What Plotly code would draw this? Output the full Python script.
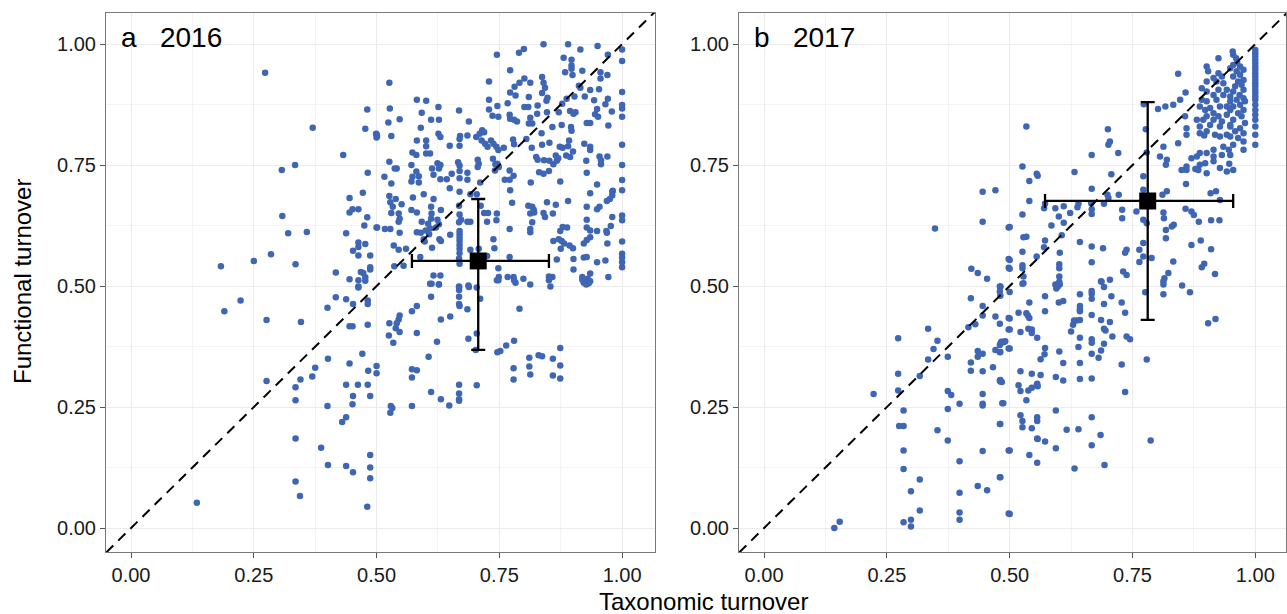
import plotly.graph_objects as go

# ---------------- Panel a: 2016 (taxonomic turnover, functional turnover) ----------------
pts_2016 = [
    (.273,.941),(.481,.865),(.477,.825),(.50,.814),(.50,.807),(.37,.827),(.432,.771),(.307,.740),(.334,.750),
    (.482,.734),(.472,.693),(.445,.682),(.445,.652),(.451,.659),(.463,.659),(.481,.642),(.308,.645),(.475,.625),
    (.50,.621),(.320,.609),(.358,.612),(.438,.609),(.463,.590),(.463,.581),(.477,.587),(.452,.573),(.463,.563),
    (.487,.563),(.285,.566),(.250,.552),(.183,.541),(.335,.545),(.487,.539),(.487,.534),(.417,.528),(.468,.529),
    (.473,.527),(.445,.514),(.463,.512),(.477,.518),(.463,.499),
    (.463,.497),(.477,.511),(.223,.470),(.190,.448),(.276,.430),(.346,.426),(.417,.477),(.438,.473),(.400,.455),
    (.452,.463),(.482,.470),(.482,.463),(.445,.417),(.451,.417),(.482,.420),(.471,.360),(.401,.350),(.375,.331),
    (.445,.340),(.369,.313),(.345,.307),(.276,.304),(.335,.291),(.335,.264),(.438,.296),(.462,.296),(.482,.296),
    (.452,.273),(.451,.256),(.483,.325),(.50,.320),(.50,.335),(.487,.273),(.40,.252),(.438,.229),(.430,.219),
    (.335,.185),(.387,.166),(.401,.130),(.438,.128),(.452,.115),(.487,.151),(.487,.125),(.487,.103),(.335,.096),
    (.344,.066),(.134,.052),(.481,.044),
    (.612,.505),(.627,.503),(.668,.499),(.668,.492),(.668,.478),(.668,.463),(.669,.459),(.687,.501),(.704,.497),
    (.711,.474),(.685,.452),(.611,.478),(.582,.459),(.572,.448),(.582,.403),(.650,.437),(.631,.431),(.547,.439),
    (.545,.431),(.541,.423),(.539,.413),(.547,.405),(.526,.423),(.525,.398),(.534,.383),(.623,.385),(.687,.391),
    (.704,.402),(.702,.368),(.746,.363),(.752,.366),(.764,.377),(.780,.387),(.791,.453),(.745,.512),(.783,.507),
    (.813,.503),(.854,.499),(.922,.507),(.927,.503),(.935,.510),(.606,.354),(.572,.328),(.582,.326),(.572,.311),
    (.611,.281),(.631,.266),(.648,.253),(.668,.296),(.668,.278),(.668,.266),(.668,.263),(.704,.295),(.572,.252),
    (.529,.252),(.532,.248),(.528,.238),(.779,.330),(.779,.307),(.811,.352),(.811,.334),(.813,.317),(.830,.357),
    (.837,.355),(.859,.350),(.859,.315),(.874,.372),(.874,.336),(.874,.309),
    (.84,1.0),(.89,1.0),(.95,.996),(.80,.99),(.79,.982),(.745,.978),(.915,.989),(1.0,.989),(.971,.978),(1.0,.965),
    (.881,.972),(.897,.968),(.897,.956),(.897,.949),(.772,.946),(.884,.942),(.919,.945),(.899,.936),(.956,.942),
    (.970,.936),(.837,.932),(.801,.929),(.729,.923),(.526,.920),(.791,.920),(.813,.920),(.781,.912),(.772,.900),
    (.840,.920),(.843,.910),(.837,.899),(.956,.929),(.935,.905),(.953,.907),(.915,.910),(.903,.892),(.912,.914),
    (1.0,.901),(.971,.887),(.783,.894),(.810,.891),(.848,.889),(.887,.887),(.582,.885),(.601,.883),(.729,.885),
    (.767,.878),(.846,.883),(.924,.892),(.943,.884),(.966,.876),(.746,.872),(.801,.870),(.809,.870),(.828,.873),
    (1.0,.874),(1.0,.867),(.878,.877),(.979,.861),(.894,.862),(.901,.856),(.949,.866),(.945,.855),(.951,.850),
    (.527,.867),(.626,.870),(.668,.863),(.592,.858),(.729,.865),(.736,.852),(.748,.850),(.771,.854),(.772,.846),
    (.780,.844),(.786,.840),(.813,.848),(.827,.856),(.847,.859),(.871,.859),(.905,.859),(1.0,.850),(.935,.837),
    (.928,.837),(.972,.832),(.547,.845),(.611,.844),(.627,.844),(.524,.838),(.688,.840),(.590,.827),(.817,.836),
    (.810,.836),(.858,.829),(.877,.833),(.896,.829),(.897,.821),(.715,.822),(.710,.815),(.703,.808),(.719,.818),
    (.499,.815),(.501,.810),(.530,.810),(.626,.815),(.630,.808),(.670,.810),(.669,.804),(.685,.811),(.836,.816),
    (.778,.803),(.805,.804),(.852,.796),(.892,.801),(.923,.794),(.935,.788),(1.0,.792),(.582,.801),(.601,.801),
    (.601,.789),(.649,.790),(.669,.790),(.714,.801),(.721,.794),(.726,.788),(.733,.801),(.738,.794),(.744,.788),
    (.748,.781),(.759,.786),(.780,.793),(.816,.786),(.837,.792),(.873,.788),(.879,.786),(.890,.789),(.900,.778),
    (.886,.770),(.894,.767),(.870,.764),(.867,.759),(.860,.752),(.852,.759),(.841,.760),(.828,.761),(.865,.770),
    (.573,.776),(.581,.771),(.601,.774),(.609,.774),(.825,.767),(.935,.781),(.954,.768),(.970,.768),(.957,.760),
    (.957,.752),(1.0,.750),(.927,.759),(.526,.757),(.571,.750),(.624,.754),(.630,.750),(.613,.743),(.627,.743),
    (.666,.756),(.669,.749),(.669,.738),(.685,.734),(.706,.761),(.708,.753),(.706,.746),(.737,.763),(.742,.752),
    (.746,.753),(.749,.746),(.741,.739),(.771,.739),(.761,.720),(.771,.720),(.779,.728),(.831,.735),(.840,.732),
    (.851,.738),(.928,.734),(.541,.743),(.537,.743),(.581,.737),(.616,.730),(.653,.732),(.643,.721),(.573,.726),
    (.586,.727),(.571,.716),(.586,.714),(.516,.726),(.530,.712),(.630,.721),(.669,.723),(.685,.720),(.711,.714),
    (.814,.714),(.874,.716),(.772,.698),(.949,.710),(1.0,.719),(1.0,.698),(.980,.695),(.980,.687),(.935,.692),
    (.596,.690),(.574,.683),(.649,.702),(.669,.695),(.691,.690),(.704,.690),(.526,.686),(.528,.673),(.533,.664),
    (.539,.680),(.551,.669),(.545,.650),(.530,.651),(.571,.657),(.582,.652),(.616,.680),(.611,.664),(.612,.650),
    (.631,.657),(.624,.637),(.611,.639),(.605,.629),(.592,.633),(.668,.666),(.669,.648),(.672,.637),(.668,.632),
    (.685,.633),(.691,.633),(.712,.666),(.719,.651),(.727,.651),(.745,.650),(.725,.633),(.744,.636),(.776,.672),
    (.809,.666),(.817,.664),(.820,.658),(.813,.650),(.821,.652),(.817,.632),(.840,.651),(.847,.673),(.865,.668),
    (.843,.643),(.859,.650),(.890,.676),(.928,.664),(.949,.659),(.954,.664),(.969,.676),(.975,.680),(.981,.697),
    (.980,.643),(1.0,.646),(1.0,.636),(.928,.637),(.928,.621),(.935,.615),(.949,.614),(.969,.610),(.977,.624),
    (.968,.614),(.874,.614),(.879,.622),(.888,.621),(.547,.639),(.545,.633),(.609,.619),(.600,.615),(.607,.607),
    (.627,.628),(.621,.621),(.596,.597),(.598,.592),(.628,.597),(.631,.593),(.669,.614),(.669,.607),(.669,.600),
    (.669,.593),(.669,.585),(.669,.577),(.669,.568),(.668,.557),(.669,.546),(.738,.597),(.740,.578),(.771,.618),
    (.813,.618),(.813,.611),(.501,.621),(.517,.618),(.528,.618),(.547,.610),(.582,.611),(.590,.610),(.860,.593),
    (.871,.597),(.877,.593),(.882,.588),(.875,.577),(.893,.584),(.900,.578),(.935,.601),(.928,.595),(.922,.588),
    (.970,.588),(1.0,.592),(1.0,.567),(1.0,.559),(1.0,.549),(.922,.559),(.535,.584),(.545,.575),(.560,.577),
    (.589,.560),(.613,.579),(.650,.606),(.691,.575),(.708,.577),(.901,.556),(.928,.560),(.949,.549),(.966,.553),
    (.867,.555),(.725,.562),(.748,.537),(.771,.560),(.536,.541),(.555,.542),(.616,.522),(.630,.522),(.609,.505),
    (.627,.504),(.668,.498),(.688,.498),(.749,.519),(.748,.512),(.767,.519),(.779,.519),(.780,.512),(.799,.515),
    (.851,.520),(.858,.519),(.851,.512),(.919,.519),(.919,.513),(.930,.515),(.935,.526),(.932,.506),(.972,.519),
    (1.0,.539),(.901,.534),
]

# ---------------- Panel b: 2017 ----------------
col_2017_y = [.988,.981,.975,.968,.961,.954,.947,.940,.933,.926,.919,.913,.906,.899,.892,.885,.875,.864,
              .854,.844,.830,.813,.792]
pts_2017 = [(1.0, v) for v in col_2017_y] + [
    (.954,.985),(.955,.978),(.961,.971),(.963,.962),(.955,.957),(.949,.950),(.969,.954),(.976,.947),(.962,.944),
    (.969,.937),(.955,.933),(.976,.926),(.965,.923),(.972,.916),(.959,.913),(.976,.906),(.955,.902),(.968,.895),
    (.976,.888),(.949,.892),(.962,.885),(.979,.882),(.969,.875),(.955,.871),(.942,.871),(.976,.864),(.965,.857),
    (.949,.864),(.972,.851),(.955,.844),(.979,.837),(.949,.830),(.969,.826),(.959,.820),(.976,.816),(.949,.809),
    (.965,.806),(.976,.799),(.955,.792),(.976,.782),(.946,.782),(.925,.971),(.901,.954),(.904,.944),(.925,.940),
    (.932,.933),(.915,.930),(.921,.923),(.935,.919),(.901,.923),(.891,.909),(.901,.902),(.925,.906),(.942,.906),
    (.915,.895),(.935,.895),(.891,.885),(.901,.882),(.949,.882),(.921,.885),(.887,.871),(.898,.864),(.908,.868),
    (.928,.871),(.915,.857),(.901,.851),(.925,.851),(.942,.854),(.894,.844),(.915,.844),(.932,.840),(.887,.830),
    (.908,.833),(.928,.830),(.949,.833),(.901,.820),(.918,.813),(.942,.813),(.928,.809),(.887,.816),(.896,.811),
    (.935,.788),(.915,.782),(.901,.775),(.887,.775),(.881,.768),(.870,.764),(.915,.768),(.932,.771),(.949,.771),
    (.915,.758),(.887,.751),(.898,.754),(.860,.747),(.884,.740),(.901,.733),(.928,.744),(.947,.753),(.942,.737),
    (.955,.740),(.850,.740),(.860,.740),(.878,.742),(.843,.939),(.858,.900),(.847,.885),(.833,.875),(.857,.851),
    (.860,.826),(.860,.813),(.881,.844),(.843,.795),(.820,.761),(.818,.751),(.813,.788),(.806,.768),(.817,.871),
    (.802,.866),(.773,.876),(.777,.824),(.779,.776),(.772,.727),(.772,.699),(.859,.711),(.820,.696),(.811,.689),
    (.909,.692),(.920,.696),(.928,.678),(.858,.660),(.870,.654),(.875,.647),(.885,.633),(.910,.636),(.927,.636),
    (.813,.652),(.814,.640),(.830,.623),(.834,.627),(.818,.616),(.818,.599),(.833,.551),(.823,.527),(.815,.516),
    (.813,.503),(.870,.585),(.889,.594),(.910,.576),(.896,.546),(.891,.539),(.918,.525),(.758,.654),(.772,.637),
    (.779,.630),(.772,.589),(.764,.575),(.772,.561),(.789,.558),(.764,.550),(.700,.824),(.704,.799),(.701,.792),
    (.721,.775),(.667,.771),(.632,.736),(.707,.731),(.722,.689),(.699,.689),(.701,.682),(.692,.670),(.667,.701),
    (.729,.658),(.729,.640),(.667,.659),(.667,.649),(.640,.670),(.638,.663),(.610,.665),(.593,.661),(.572,.670),
    (.570,.661),(.623,.651),(.600,.644),(.610,.631),(.585,.625),(.666,.671),(.606,.605),(.602,.569),(.643,.591),
    (.667,.582),(.690,.578),(.738,.575),(.735,.569),(.738,.523),(.731,.530),(.704,.513),(.687,.509),(.667,.549),
    (.572,.594),(.570,.580),(.555,.561),(.528,.601),(.534,.602),(.526,.571),(.526,.543),(.526,.537),(.528,.520),
    (.528,.506),(.500,.554),(.500,.536),(.500,.622),(.526,.648),(.540,.676),(.526,.747),(.555,.732),(.557,.728),
    (.540,.717),(.534,.830),(.601,.545),(.601,.537),(.601,.520),(.601,.509),
    (.445,.695),(.471,.698),(.445,.633),(.348,.619),(.498,.621),(.498,.556),(.498,.538),(.422,.536),(.435,.527),
    (.454,.515),(.481,.499),
    (.421,.475),(.445,.459),(.445,.439),(.471,.437),(.481,.498),(.481,.480),(.498,.434),(.498,.410),(.416,.415),
    (.430,.421),(.334,.412),(.273,.392),(.353,.387),(.345,.370),(.334,.348),(.374,.354),(.317,.314),(.273,.319),
    (.273,.284),(.223,.277),(.374,.283),(.381,.275),(.398,.257),(.374,.246),(.421,.342),(.421,.325),(.435,.354),
    (.445,.360),(.435,.366),(.471,.368),(.481,.364),(.481,.381),(.487,.384),(.491,.386),(.466,.332),(.498,.371),
    (.481,.306),(.481,.303),(.445,.324),(.445,.277),(.445,.257),(.445,.253),(.485,.258),(.284,.243),(.275,.211),
    (.284,.211),(.353,.202),(.374,.181),(.481,.215),(.284,.160),(.445,.159),(.498,.160),(.398,.138),(.284,.122),
    (.317,.100),(.299,.076),(.398,.073),(.481,.105),(.435,.087),(.454,.078),(.317,.036),(.398,.032),(.398,.017),
    (.284,.012),(.299,.017),(.299,.003),(.143,.000),(.154,.013),(.498,.030),
    (.480,.499),(.480,.489),(.500,.488),(.526,.505),(.593,.503),(.598,.499),(.602,.503),(.595,.495),(.572,.479),
    (.540,.466),(.518,.445),(.534,.444),(.537,.439),(.540,.434),(.500,.433),(.572,.448),(.600,.466),(.609,.469),
    (.643,.483),(.667,.490),(.667,.484),(.667,.474),(.686,.510),(.692,.498),(.707,.479),(.728,.466),(.735,.445),
    (.692,.463),(.643,.459),(.643,.452),(.643,.448),(.667,.440),(.631,.429),(.636,.429),(.629,.420),(.643,.430),
    (.686,.430),(.704,.426),(.692,.412),(.695,.408),(.480,.422),(.500,.410),(.522,.405),(.538,.412),(.545,.410),
    (.545,.403),(.556,.393),(.625,.406),(.643,.393),(.667,.390),(.667,.383),(.692,.381),(.709,.396),(.738,.396),
    (.745,.390),(.483,.385),(.488,.385),(.480,.378),(.480,.363),(.500,.371),(.572,.372),(.571,.359),(.563,.349),
    (.601,.365),(.609,.341),(.640,.374),(.643,.341),(.667,.360),(.686,.367),(.681,.352),(.728,.338),(.779,.348),
    (.904,.423),(.919,.432),(.776,.487),(.813,.483),(.813,.510),(.851,.501),(.867,.487),(.522,.324),(.545,.319),
    (.563,.316),(.480,.305),(.484,.302),(.518,.295),(.522,.283),(.538,.284),(.545,.290),(.555,.295),(.556,.298),
    (.557,.293),(.534,.264),(.594,.312),(.609,.305),(.643,.308),(.667,.309),(.735,.281),(.487,.258),(.594,.243),
    (.522,.233),(.526,.221),(.526,.208),(.545,.206),(.556,.229),(.556,.221),(.556,.185),(.557,.184),(.572,.179),
    (.594,.165),(.616,.203),(.640,.204),(.667,.229),(.685,.192),(.667,.171),(.540,.151),(.556,.135),(.480,.215),
    (.500,.160),(.632,.123),(.693,.130),(.787,.181),(.480,.105),(.500,.029),
]

# mean +/- sd crosses: [x, x_low, x_high, y, y_low, y_high]
mean_2016 = [0.707, 0.572, 0.851, 0.552, 0.368, 0.680]
mean_2017 = [0.781, 0.572, 0.955, 0.676, 0.430, 0.880]

panel_labels = ["a   2016", "b   2017"]
tick_vals = [0, 0.25, 0.5, 0.75, 1.0]
tick_text = ["0.00", "0.25", "0.50", "0.75", "1.00"]

BLUE = "#3F66B4"
FONT = "Liberation Sans, Arial, Helvetica, sans-serif"

fig = go.Figure()

for i, (pts, mean) in enumerate([(pts_2016, mean_2016), (pts_2017, mean_2017)]):
    xa = "x" if i == 0 else "x2"
    ya = "y" if i == 0 else "y2"
    fig.add_trace(go.Scatter(
        x=[p[0] for p in pts], y=[p[1] for p in pts], mode="markers",
        marker=dict(size=6.5, color=BLUE, line=dict(width=0)),
        xaxis=xa, yaxis=ya, showlegend=False, hoverinfo="skip"))
    fig.add_trace(go.Scatter(
        x=[-0.1, 1.1], y=[-0.1, 1.1], mode="lines",
        line=dict(color="black", width=2, dash="10px,7px"),
        xaxis=xa, yaxis=ya, showlegend=False, hoverinfo="skip"))
    mx, xl, xh, my, yl, yh = mean
    fig.add_trace(go.Scatter(
        x=[mx], y=[my], mode="markers",
        marker=dict(symbol="square", size=17, color="black"),
        error_x=dict(type="data", symmetric=False, array=[xh - mx], arrayminus=[mx - xl],
                     color="black", thickness=2.3, width=7),
        error_y=dict(type="data", symmetric=False, array=[yh - my], arrayminus=[my - yl],
                     color="black", thickness=2.3, width=7),
        xaxis=xa, yaxis=ya, showlegend=False, hoverinfo="skip"))

axis_common = dict(
    tickvals=tick_vals, ticktext=tick_text, ticks="outside", ticklen=5, tickwidth=1,
    tickcolor="#555555", showline=True, mirror=True, linecolor="#7a7a7a", linewidth=1,
    showgrid=True, gridcolor="#EBEBEB", gridwidth=1, zeroline=False, automargin=False,
    tickfont=dict(family=FONT, size=20, color="#1a1a1a"),
    minor=dict(dtick=0.125, tick0=0.125, showgrid=True, gridcolor="#F4F4F4", gridwidth=1, ticks=""),
)

fig.update_layout(
    width=1287, height=614,
    margin=dict(l=0, r=0, t=0, b=0, pad=0, autoexpand=False),
    paper_bgcolor="white", plot_bgcolor="white",
    font=dict(family=FONT),
    xaxis=dict(domain=[106/1287, 655/1287], range=[-0.051, 1.067], anchor="y", **axis_common),
    yaxis=dict(domain=[1 - 552/614, 1 - 12.7/614], range=[-0.0496, 1.065], anchor="x", **axis_common),
    xaxis2=dict(domain=[739/1287, 1286/1287], range=[-0.051, 1.0625], anchor="y2", **axis_common),
    yaxis2=dict(domain=[1 - 552/614, 1 - 12.7/614], range=[-0.0496, 1.065], anchor="x2", **axis_common),
    annotations=[
        dict(text=panel_labels[0], x=119/1287, y=1 - 20/614, xref="paper", yref="paper",
             xanchor="left", yanchor="top", showarrow=False,
             font=dict(family=FONT, size=28, color="black")),
        dict(text=panel_labels[1], x=752/1287, y=1 - 20/614, xref="paper", yref="paper",
             xanchor="left", yanchor="top", showarrow=False,
             font=dict(family=FONT, size=28, color="black")),
        dict(text="Functional turnover", x=22/1287, y=1 - 282/614, xref="paper", yref="paper",
             xanchor="center", yanchor="middle", textangle=-90, showarrow=False,
             font=dict(family=FONT, size=24, color="black")),
        dict(text="Taxonomic turnover", x=703/1287, y=1 - 601/614, xref="paper", yref="paper",
             xanchor="center", yanchor="middle", showarrow=False,
             font=dict(family=FONT, size=24, color="black")),
    ],
)

fig.write_html(
    "out.html",
    config={"displayModeBar": False},
    post_script="document.body.style.margin='0';document.body.style.overflow='hidden';",
)
